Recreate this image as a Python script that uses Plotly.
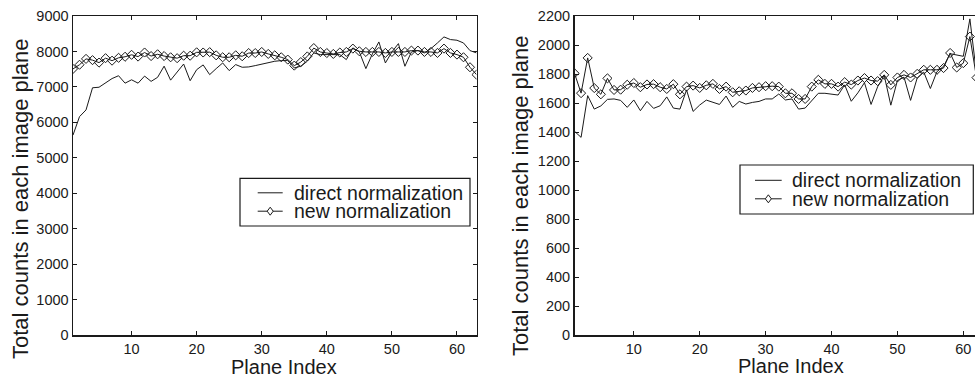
import plotly.graph_objects as go

W, H = 975, 379

plane_left = list(range(1, 64))
direct_left = [5640, 6160, 6350, 6975, 6990, 7125, 7235, 7315, 7105, 7200,
               7105, 7305, 7155, 7270, 7585, 7190, 7420, 7645, 7175, 7485,
               7620, 7346, 7516, 7675, 7459, 7629, 7554, 7563, 7600, 7648,
               7695, 7723, 7742, 7742, 7535, 7582, 7723, 7958, 7911, 7911,
               7911, 7911, 7770, 8100, 7986, 7516, 7930, 8268, 7675, 7986,
               8221, 7582, 7986, 8024, 7958, 8080, 8240, 8410, 8335, 8316,
               8240, 8024, 7958]
new_left = [7507, 7625, 7790, 7755, 7685, 7810, 7740, 7820, 7850, 7905,
            7855, 7970, 7870, 7920, 7870, 7835, 7810, 7880, 7880, 7975,
            7970, 7980, 7890, 7836, 7836, 7890, 7864, 7955, 7955, 7985,
            7930, 7890, 7836, 7770, 7600, 7700, 7860, 8095, 7985, 7955,
            7930, 7970, 7986, 8080, 8005, 7986, 7986, 7986, 7958, 7986,
            7986, 7986, 8024, 8024, 7986, 7986, 7958, 8080, 7958, 7911,
            7836, 7554, 7346]

plane_right = list(range(1, 64))
direct_right = [1405, 1363, 1651, 1558, 1580, 1625, 1628, 1618, 1570, 1621,
                1547, 1611, 1563, 1581, 1642, 1565, 1558, 1690, 1542, 1586,
                1620, 1605, 1590, 1648, 1570, 1611, 1593, 1604, 1611, 1628,
                1628, 1662, 1621, 1628, 1558, 1565, 1616, 1667, 1667, 1662,
                1655, 1725, 1612, 1670, 1740, 1590, 1712, 1790, 1585, 1755,
                1778, 1618, 1772, 1813, 1700, 1816, 1853, 1940, 1930, 1922,
                2180, 1800, 1780]
new_right = [1805, 1668, 1911, 1703, 1660, 1770, 1690, 1692, 1726, 1738,
             1709, 1728, 1730, 1709, 1697, 1730, 1660, 1713, 1720, 1704,
             1722, 1732, 1697, 1713, 1674, 1681, 1686, 1704, 1709, 1716,
             1716, 1713, 1667, 1667, 1628, 1628, 1713, 1760, 1732, 1732,
             1713, 1744, 1727, 1755, 1772, 1755, 1751, 1794, 1725, 1776,
             1794, 1776, 1801, 1829, 1829, 1829, 1841, 1945, 1845, 1875,
             2058, 1775, 1790]

x_ticks = [10, 20, 30, 40, 50, 60]
y_ticks_left = list(range(0, 9001, 1000))
y_ticks_right = list(range(0, 2201, 200))

legend_labels = ["direct normalization", "new normalization"]
y_title = "Total counts in each image plane"
x_title = "Plane Index"

FONT = "Liberation Sans, Arial, Helvetica, sans-serif"
INK = "#1a1a1a"


def px(x):
    return x / W


def py(y):
    return 1 - y / H


fig = go.Figure()

line_style = dict(color=INK, width=1)
marker_style = dict(symbol="diamond-open", size=7, color=INK, line=dict(width=1, color=INK))

fig.add_trace(go.Scatter(x=plane_left, y=direct_left, mode="lines", line=line_style,
                         name=legend_labels[0], xaxis="x", yaxis="y", showlegend=False))
fig.add_trace(go.Scatter(x=plane_left, y=new_left, mode="lines+markers", line=line_style,
                         marker=marker_style, name=legend_labels[1], xaxis="x", yaxis="y",
                         showlegend=False))
fig.add_trace(go.Scatter(x=plane_right, y=direct_right, mode="lines", line=line_style,
                         name=legend_labels[0], xaxis="x2", yaxis="y2", showlegend=False))
fig.add_trace(go.Scatter(x=plane_right, y=new_right, mode="lines+markers", line=line_style,
                         marker=marker_style, name=legend_labels[1], xaxis="x2", yaxis="y2",
                         showlegend=False))

tick_font = dict(family=FONT, size=14.5, color=INK)
ydom = [py(335), py(16)]

common_x = dict(showgrid=False, zeroline=False, showline=True, linecolor=INK, linewidth=1.5,
                ticks="inside", ticklen=4, tickwidth=1, tickcolor=INK, tickfont=tick_font,
                tickvals=x_ticks, automargin=False, ticklabeloverflow="allow")
common_y = dict(showgrid=False, zeroline=False, showline=True, linecolor=INK, linewidth=1.5,
                ticks="inside", ticklen=4, tickwidth=1, tickcolor=INK, tickfont=tick_font,
                automargin=False)

fig.update_layout(
    width=W, height=H,
    margin=dict(l=0, r=0, t=0, b=0),
    paper_bgcolor="white", plot_bgcolor="white",
    showlegend=False,
    xaxis=dict(domain=[px(73), px(476.5)], range=[1, 63], mirror="ticks", anchor="y", **common_x),
    yaxis=dict(domain=ydom, range=[0, 9000], tickvals=y_ticks_left, mirror="ticks",
               anchor="x", **common_y),
    xaxis2=dict(domain=[px(574.5), 1.0], range=[1, 1 + (975 - 574.5) / 6.59], mirror="ticks",
                anchor="y2", **common_x),
    yaxis2=dict(domain=ydom, range=[0, 2200], tickvals=y_ticks_right, mirror=False,
                anchor="x2", **common_y),
)

ann = []
shapes = []
title_font = dict(family=FONT, size=20, color=INK)
ytitle_font = dict(family=FONT, size=22, color=INK)
# axis titles
ann.append(dict(text=y_title, x=px(20), y=py(199), xref="paper", yref="paper", textangle=-90,
                showarrow=False, xanchor="center", yanchor="middle", font=ytitle_font))
ann.append(dict(text=y_title, x=px(520), y=py(196), xref="paper", yref="paper", textangle=-90,
                showarrow=False, xanchor="center", yanchor="middle", font=ytitle_font))
ann.append(dict(text=x_title, x=px(283.8), y=py(366.5), xref="paper", yref="paper",
                showarrow=False, xanchor="center", yanchor="middle", font=title_font))
ann.append(dict(text=x_title, x=px(790.8), y=py(366), xref="paper", yref="paper",
                showarrow=False, xanchor="center", yanchor="middle", font=title_font))


def legend(box, rows, line_x, text_x):
    x0, x1, y0, y1 = box
    shapes.append(dict(type="rect", xref="paper", yref="paper", x0=px(x0), x1=px(x1),
                       y0=py(y1), y1=py(y0), line=dict(color=INK, width=1.2),
                       fillcolor="white", layer="above"))
    for i, ry in enumerate(rows):
        shapes.append(dict(type="line", xref="paper", yref="paper", x0=px(line_x[0]),
                           x1=px(line_x[1]), y0=py(ry), y1=py(ry),
                           line=dict(color=INK, width=1), layer="above"))
        ann.append(dict(text=legend_labels[i], x=px(text_x), y=py(ry), xref="paper",
                        yref="paper", showarrow=False, xanchor="left", yanchor="middle",
                        font=dict(family=FONT, size=19.5, color=INK)))
    cx = (line_x[0] + line_x[1]) / 2
    cy = rows[1]
    hw, hh = 3.0, 4.0
    path = "M {:.5f},{:.5f} L {:.5f},{:.5f} L {:.5f},{:.5f} L {:.5f},{:.5f} Z".format(
        px(cx), py(cy - hh), px(cx + hw), py(cy), px(cx), py(cy + hh), px(cx - hw), py(cy))
    shapes.append(dict(type="path", xref="paper", yref="paper", path=path,
                       line=dict(color=INK, width=1), fillcolor="white", layer="above"))


legend((240, 470, 178.3, 226), (192.8, 211.2), (257.7, 282.7), 291.7)
legend((740, 973.3, 165, 214), (180.3, 198.8), (755, 781.7), 790)

fig.update_layout(annotations=ann, shapes=shapes)

# remove the default page margin so the 975x379 figure fills the window exactly
page_fix = ("document.body.style.margin='0';"
            "document.body.style.padding='0';"
            "document.documentElement.style.overflow='hidden';"
            "document.body.style.overflow='hidden';")

fig.write_html("out.html", post_script=page_fix,
               config={"displayModeBar": False, "staticPlot": True})
